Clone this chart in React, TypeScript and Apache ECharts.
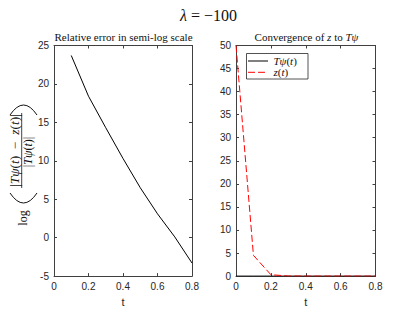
import React, { useEffect, useRef } from "react";
import * as echarts from "echarts";

const tErr = [0.1, 0.2, 0.3, 0.4, 0.5, 0.6, 0.7, 0.8];
const logRelErr = [23.7, 18.4, 14.3, 10.3, 6.5, 3.1, 0.1, -3.3];

const tConv = [0, 0.1, 0.2, 0.3, 0.4, 0.5, 0.6, 0.7, 0.8];
const tPsiVals = [0, 0, 0, 0, 0, 0, 0, 0, 0];
const zVals = [50, 4.5, 0.3, 0.02, 0.002, 0, 0, 0, 0];

const seriesNames = ["Tψ(t)", "z(t)"];

const AX = "#404040";
const SANS = "Liberation Sans";
const SERIF = "Liberation Serif";
const RED = "#ff0000";

function App() {
  const ref = useRef<HTMLDivElement>(null);
  useEffect(() => {
    if (!ref.current) return;
    const chart = echarts.init(ref.current, null, { renderer: "svg" });

    const xBase = (gridIndex: number, pos: "bottom" | "top") => ({
      type: "value",
      gridIndex,
      position: pos,
      min: 0,
      max: 0.8,
      interval: 0.2,
      axisLine: { show: true, onZero: false, lineStyle: { color: AX, width: 1 } },
      axisTick: { show: true, inside: true, length: 3, lineStyle: { color: AX } },
      axisLabel: {
        show: pos === "bottom",
        color: "#262626",
        fontFamily: SANS,
        fontSize: 10,
        margin: 5,
      },
      splitLine: { show: false },
      name: pos === "bottom" ? "t" : "",
      nameLocation: "middle",
      nameGap: 19,
      nameTextStyle: { fontFamily: SANS, fontSize: 11, color: "#262626" },
    });
    const yBase = (gridIndex: number, pos: "left" | "right", min: number, max: number) => ({
      type: "value",
      gridIndex,
      position: pos,
      min,
      max,
      interval: 5,
      axisLine: { show: true, onZero: false, lineStyle: { color: AX, width: 1 } },
      axisTick: { show: true, inside: true, length: 3, lineStyle: { color: AX } },
      axisLabel: {
        show: pos === "left",
        color: "#262626",
        fontFamily: SANS,
        fontSize: 10,
        margin: 5,
      },
      splitLine: { show: false },
    });

    const mkRich = (size: number, color = "#111") => ({
      i: { fontFamily: SERIF, fontStyle: "italic", fontSize: size, color },
      n: { fontFamily: SERIF, fontSize: size, color },
    });
    const txt = (x: number, y: number, text: string, extra: any = {}, align = "center") => ({
      type: "text",
      x,
      y,
      style: {
        text,
        fill: "#111",
        align,
        verticalAlign: "middle",
        textAlign: align,
        textVerticalAlign: "middle",
        ...extra,
      },
    });

    const option: any = {
      animation: false,
      backgroundColor: "#fff",
      grid: [
        { left: 54, top: 45.5, width: 138, height: 233.5 },
        { left: 236, top: 45.5, width: 139.5, height: 233.5 },
      ],
      xAxis: [xBase(0, "bottom"), xBase(0, "top"), xBase(1, "bottom"), xBase(1, "top")],
      yAxis: [
        yBase(0, "left", -5, 25),
        yBase(0, "right", -5, 25),
        yBase(1, "left", 0, 50),
        yBase(1, "right", 0, 50),
      ],
      series: [
        {
          type: "line",
          xAxisIndex: 0,
          yAxisIndex: 0,
          data: tErr.map((t, i) => [t, logRelErr[i]]),
          symbol: "none",
          lineStyle: { color: "#000", width: 1 },
        },
        {
          name: seriesNames[0],
          type: "line",
          xAxisIndex: 2,
          yAxisIndex: 2,
          data: tConv.map((t, i) => [t, tPsiVals[i]]),
          symbol: "none",
          lineStyle: { color: "#000", width: 1 },
        },
        {
          name: seriesNames[1],
          type: "line",
          xAxisIndex: 2,
          yAxisIndex: 2,
          data: tConv.map((t, i) => [t, zVals[i]]),
          symbol: "none",
          lineStyle: { color: RED, width: 1, type: [7, 3] },
        },
      ],
      graphic: {
        elements: [
          txt(208.5, 15, "{i|λ}{n| = −100}", { rich: mkRich(16) }),
          txt(123.5, 37, "{n|Relative error in semi-log scale}", { rich: mkRich(11) }),
          txt(306.5, 37, "{n|Convergence of }{i|z}{n| to }{i|Tψ}", { rich: mkRich(11) }),
          // y-axis label of the left panel
          {
            type: "group",
            x: 21.7,
            y: 166,
            rotation: Math.PI / 2,
            children: [
              txt(-52, 1.3, "{n|log}", { rich: mkRich(12) }),
              {
                ...txt(15.5, -6.5, "{n||}{i|Tψ}{n|(}{i|t}{n|)\u2002−\u2002}{i|z}{n|(}{i|t}{n|)|}", {
                  rich: mkRich(12),
                }),
                scaleX: 1.12,
              },
              {
                type: "line",
                shape: { x1: -22, y1: 0, x2: 53, y2: 0 },
                style: { stroke: "#111", lineWidth: 0.8 },
              },
              txt(14, 6.5, "{n||}{i|Tψ}{n|(}{i|t}{n|)|}", { rich: mkRich(12) }),
            ],
          },
          {
            type: "bezierCurve",
            shape: { x1: 10, y1: 193, cpx1: 23.5, cpy1: 213, x2: 37, y2: 193 },
            style: { stroke: "#111", lineWidth: 1, fill: null },
          },
          {
            type: "bezierCurve",
            shape: { x1: 10, y1: 115, cpx1: 23.5, cpy1: 95, x2: 37, y2: 115 },
            style: { stroke: "#111", lineWidth: 1, fill: null },
          },
          // legend of the right panel
          {
            type: "group",
            z: 100,
            children: [
              {
                type: "rect",
                shape: { x: 246.5, y: 53.5, width: 61.5, height: 25.5 },
                style: { fill: "#fff", stroke: "#262626", lineWidth: 0.8 },
              },
              {
                type: "line",
                shape: { x1: 248, y1: 61, x2: 268, y2: 61 },
                style: { stroke: "#000", lineWidth: 1 },
              },
              {
                type: "line",
                shape: { x1: 248, y1: 72.3, x2: 268, y2: 72.3 },
                style: { stroke: RED, lineWidth: 1, lineDash: [7, 3] },
              },
              txt(273.5, 61, "{i|Tψ}{n|(}{i|t}{n|)}", { rich: mkRich(11) }, "left"),
              txt(273.5, 72.3, "{i|z}{n|(}{i|t}{n|)}", { rich: mkRich(11) }, "left"),
            ],
          },
        ],
      },
    };
    chart.setOption(option);
    return () => chart.dispose();
  }, []);
  return (
    <div
      ref={ref}
      style={{ position: "fixed", left: 0, top: 0, width: 415, height: 312 }}
    />
  );
}

export default App;
